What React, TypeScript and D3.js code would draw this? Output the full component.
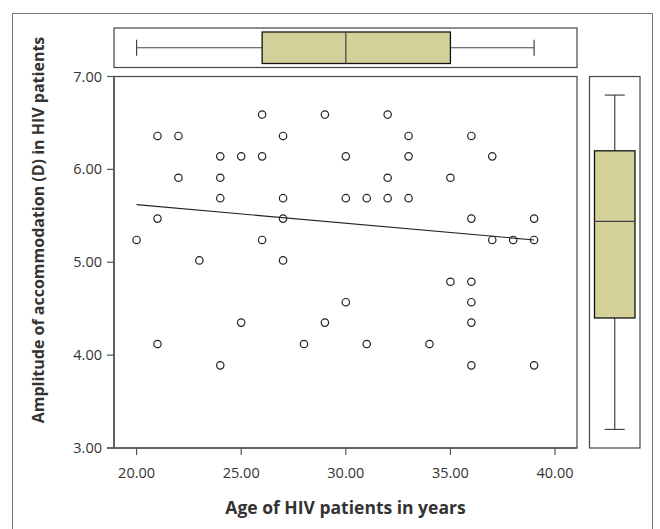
import React from 'react';
import * as d3 from 'd3';

// age (years) and amplitude of accommodation (D), one entry per patient
const ages = [
  20, 21, 21, 21, 22, 22, 23, 24, 24, 24, 24, 25, 25, 26, 26, 26, 27, 27, 27, 27,
  28, 29, 29, 30, 30, 30, 31, 31, 32, 32, 32, 33, 33, 33, 34, 35, 35, 36, 36, 36,
  36, 36, 36, 37, 37, 38, 39, 39, 39,
];
const amplitudes = [
  5.24, 6.36, 5.47, 4.12, 6.36, 5.91, 5.02, 6.14, 5.91, 5.69, 3.89, 6.14, 4.35, 6.59, 6.14, 5.24, 6.36, 5.69, 5.47, 5.02,
  4.12, 6.59, 4.35, 6.14, 5.69, 4.57, 5.69, 4.12, 6.59, 5.91, 5.69, 6.36, 6.14, 5.69, 4.12, 5.91, 4.79, 6.36, 5.47, 4.79,
  4.57, 4.35, 3.89, 6.14, 5.24, 5.24, 5.47, 5.24, 3.89,
];

// fitted line as printed: ends at the youngest and oldest age
const fitAges = [20, 39];
const fitValues = [5.62, 5.24];

// box plot summaries as drawn in the margins: min, q1, median, q3, max
const ageBox = [20, 26, 30, 35, 39];
const ampBox = [3.2, 4.4, 5.44, 6.2, 6.8];

const xTicks = [20, 25, 30, 35, 40];
const yTicks = [3, 4, 5, 6, 7];

const W = 660;
const H = 529;
const plot = { left: 114, right: 577, top: 76.5, bottom: 448 };
const topPanel = { top: 28, bottom: 67.5 };
const sidePanel = { left: 589.5, right: 640 };

const font = '"Open Sans", "DejaVu Sans", sans-serif';
const boxFill = '#d4d09a';
const ink = '#333';

const App = () => {
  const x = d3.scaleLinear().domain([18.92, 41.05]).range([plot.left, plot.right]);
  const y = d3.scaleLinear().domain([3, 7]).range([plot.bottom, plot.top]);

  const fit = d3.line<number>().x((a) => x(a)).y((_, i) => y(fitValues[i]));

  const [aMin, aQ1, aMed, aQ3, aMax] = ageBox;
  const [bMin, bQ1, bMed, bQ3, bMax] = ampBox;
  const tMid = (topPanel.top + topPanel.bottom) / 2;
  const sMid = (sidePanel.left + sidePanel.right) / 2;

  return (
    <svg width={W} height={H} style={{ position: 'absolute', left: 0, top: 0, background: '#fff' }} fontFamily={font}>
      {/* outer frame */}
      <rect x={12.5} y={13.5} width={640} height={540} fill="none" stroke="#777" strokeWidth={1} />

      {/* top box plot (age) */}
      <rect x={plot.left} y={topPanel.top} width={plot.right - plot.left} height={topPanel.bottom - topPanel.top}
        fill="none" stroke="#444" strokeWidth={1.2} />
      <line x1={x(aMin)} x2={x(aQ1)} y1={tMid} y2={tMid} stroke="#444" strokeWidth={1.2} />
      <line x1={x(aQ3)} x2={x(aMax)} y1={tMid} y2={tMid} stroke="#444" strokeWidth={1.2} />
      <line x1={x(aMin)} x2={x(aMin)} y1={tMid - 8} y2={tMid + 8} stroke="#444" strokeWidth={1.2} />
      <line x1={x(aMax)} x2={x(aMax)} y1={tMid - 8} y2={tMid + 8} stroke="#444" strokeWidth={1.2} />
      <rect x={x(aQ1)} y={topPanel.top + 4} width={x(aQ3) - x(aQ1)} height={topPanel.bottom - topPanel.top - 8}
        fill={boxFill} stroke="#111" strokeWidth={1.3} />
      <line x1={x(aMed)} x2={x(aMed)} y1={topPanel.top + 4} y2={topPanel.bottom - 4} stroke="#444" strokeWidth={1.2} />

      {/* side box plot (amplitude) */}
      <rect x={sidePanel.left} y={plot.top} width={sidePanel.right - sidePanel.left} height={plot.bottom - plot.top}
        fill="none" stroke="#444" strokeWidth={1.2} />
      <line x1={sMid} x2={sMid} y1={y(bMax)} y2={y(bQ3)} stroke="#444" strokeWidth={1.2} />
      <line x1={sMid} x2={sMid} y1={y(bQ1)} y2={y(bMin)} stroke="#444" strokeWidth={1.2} />
      <line x1={sMid - 10} x2={sMid + 10} y1={y(bMax)} y2={y(bMax)} stroke="#444" strokeWidth={1.2} />
      <line x1={sMid - 10} x2={sMid + 10} y1={y(bMin)} y2={y(bMin)} stroke="#444" strokeWidth={1.2} />
      <rect x={sidePanel.left + 5} y={y(bQ3)} width={sidePanel.right - sidePanel.left - 10} height={y(bQ1) - y(bQ3)}
        fill={boxFill} stroke="#111" strokeWidth={1.3} />
      <line x1={sidePanel.left + 5} x2={sidePanel.right - 5} y1={y(bMed)} y2={y(bMed)} stroke="#444" strokeWidth={1.2} />

      {/* main plot frame */}
      <rect x={plot.left} y={plot.top} width={plot.right - plot.left} height={plot.bottom - plot.top}
        fill="none" stroke="#444" strokeWidth={1.2} />
      <line x1={plot.left - 7} x2={plot.right} y1={plot.bottom} y2={plot.bottom} stroke="#555" strokeWidth={1.6} />
      <line x1={plot.left} x2={plot.left} y1={plot.top} y2={plot.bottom} stroke="#555" strokeWidth={1.6} />

      {/* y axis */}
      {yTicks.map((t) => (
        <g key={`y${t}`}>
          <line x1={plot.left - 7} x2={plot.left} y1={y(t)} y2={y(t)} stroke="#555" strokeWidth={1.2} />
          <text x={plot.left - 12} y={y(t)} dy="0.35em" textAnchor="end" fontSize={14.5} fill={ink}>
            {d3.format('.2f')(t)}
          </text>
        </g>
      ))}

      {/* x axis */}
      {xTicks.map((t) => (
        <g key={`x${t}`}>
          <line x1={x(t)} x2={x(t)} y1={plot.bottom} y2={plot.bottom + 7} stroke="#555" strokeWidth={1.2} />
          <text x={x(t)} y={plot.bottom + 25} dy="0.35em" textAnchor="middle" fontSize={14.5} fill={ink}>
            {d3.format('.2f')(t)}
          </text>
        </g>
      ))}

      {/* fit line */}
      <path d={fit(fitAges) || ''} fill="none" stroke="#222" strokeWidth={1.1} />

      {/* points */}
      {ages.map((a, i) => (
        <circle key={i} cx={x(a)} cy={y(amplitudes[i])} r={3.7} fill="none" stroke="#222" strokeWidth={1.2} />
      ))}

      <text x={(plot.left + plot.right) / 2} y={508} dy="0.35em" textAnchor="middle" fontSize={17.5} fontWeight="bold" fill={ink}>
        Age of HIV patients in years
      </text>
      <text transform={`translate(38, 230) rotate(-90)`} dy="0.35em" textAnchor="middle" fontSize={16} fontWeight="bold" fill={ink}>
        Amplitude of accommodation (D) in HIV patients
      </text>
    </svg>
  );
};

export default App;
